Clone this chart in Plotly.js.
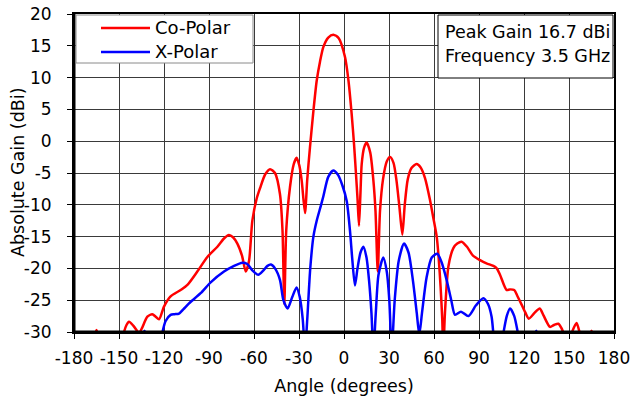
<!DOCTYPE html>
<html>
<head>
<meta charset="utf-8">
<script src="https://cdn.plot.ly/plotly-3.0.1.min.js"></script>
<style>html,body{margin:0;padding:0;background:#fff;}#chart{width:632px;height:405px;}</style>
</head>
<body>
<div id="chart"></div>
<script>
// Co-polar pattern (angle in degrees, gain in dBi)
var coAngle = [
  -180, -172, -167, -165, -163, -158, -150, -147, -145, -143.3,
  -140.5, -138, -136.7, -134.5, -131.1, -127.8, -125.5, -123.3, -120, -115.6,
  -108.9, -104.4, -97.8, -91.1, -84.4, -80, -76.7, -74, -71.1, -68,
  -65.5, -63.3, -61.1, -58.2, -56, -52.5, -49.3, -46, -42.7, -41,
  -39.8, -38.5, -36, -33.5, -31.6, -29.8, -28.2, -26, -24.5, -22.7,
  -20.5, -18.2, -16, -13.8, -10.5, -7.1, -3.5, 0.7, 3, 5.1,
  6.7, 8, 9, 10, 11, 11.8, 13.4, 15.1, 17.5, 19.6,
  21, 22.5, 24, 26, 28.5, 30.7, 33, 35, 37, 38.9,
  40.5, 42.5, 45, 48.4, 51, 54, 57.3, 59.5, 61.8, 63,
  64.4, 65.5, 66.2, 67.3, 69.6, 72.9, 75.5, 78.4, 82, 86,
  90.7, 95, 99.6, 101.8, 104, 108.4, 110.5, 113.5, 115.5, 118.4,
  121, 123.2, 127, 130.5, 133, 137.3, 140, 142.9, 145, 146.5,
  149, 151.5, 155, 157.3, 160, 162.5, 165, 167.5, 172, 180
];
var coGain = [
  -36, -34, -31.5, -29.7, -31.5, -34, -34, -30.3, -28.9, -28.4,
  -29, -29.8, -30.2, -29.3, -27.6, -27.2, -27.6, -28, -26, -24.4,
  -23.4, -22.6, -20.5, -18.2, -16.6, -15.3, -14.75, -15.1, -16.1, -18,
  -20.5, -18.8, -12.5, -9, -7.4, -5.2, -4.4, -5, -8.3, -14,
  -25.6, -14, -7.2, -3.6, -2.6, -3.8, -6.2, -11.3, -6, -1,
  4.5, 9.5, 12.5, 14.8, 16.3, 16.75, 16.2, 13.2, 9.5, 4.3,
  -0.5, -5.2, -9, -13.3, -8, -3.6, -1, -0.2, -1.8, -6.2,
  -11, -20.5, -11, -6, -3.2, -2.5, -3.4, -6.2, -10.5, -14.7,
  -10, -6, -4.2, -3.6, -4.1, -5.8, -9.2, -12, -15, -18,
  -22.9, -28, -33, -27, -19.7, -16.8, -16.1, -15.8, -16.6, -18,
  -18.7, -19.2, -19.6, -20, -21, -23.4, -23.3, -23.4, -24.3, -25.7,
  -27, -27.9, -27, -26.3, -27.4, -29.2, -28.9, -28.7, -29.4, -30.3,
  -32, -30.3, -28.6, -30.3, -33, -31.5, -29.8, -31.5, -34, -36
];

// Cross-polar pattern (angle in degrees, gain in dBi)
var xpAngle = [
  -180, -150, -138, -135, -133, -131, -128, -124, -121.5, -119,
  -115.6, -113, -110, -107, -103.3, -95.6, -88.9, -80, -73.3, -67.8,
  -64.5, -61.1, -57.1, -54, -51, -48.7, -46, -42.7, -40.4, -37.6,
  -34.5, -31.6, -29.5, -27.5, -26, -24.5, -22.5, -20.4, -18.2, -15.5,
  -13.8, -10.5, -7.1, -4, -1, 1.8, 4, 5.5, 7.3, 9,
  11, 12.9, 15, 16.7, 18.3, 19.6, 21.2, 23, 26.2, 28.5,
  30.2, 31.8, 33.8, 36.5, 40, 43, 46, 48.5, 50.2, 52,
  55, 58.5, 62.2, 65, 68.4, 71.5, 74, 78, 82.9, 88,
  92.9, 96, 98.4, 100.2, 103, 106, 108.5, 110.7, 113.5, 116.2,
  119, 125, 128.2, 131, 140, 180
];
var xpGain = [
  -36, -35, -33, -31, -29.8, -31, -34, -33, -30.5, -28.3,
  -27.3, -27.2, -27.1, -26.4, -25.5, -23.9, -22.2, -20.5, -19.6, -19.1,
  -19.3, -20.3, -21, -20.4, -19.6, -19.4, -20, -21.8, -25, -26.3,
  -24.5, -23, -24.5, -28, -33, -28, -20, -15, -12.5, -10.2,
  -8.7, -5.6, -4.6, -5.3, -7, -9.4, -14.1, -18.5, -22.7, -20,
  -17.5, -16.6, -18.3, -21.9, -27, -33, -27, -21, -18.3, -20.5,
  -25, -33, -25, -18.8, -16.1, -17.5, -22, -27, -30.4, -27,
  -21.5, -18.3, -17.7, -19, -21.8, -25, -27.3, -26.8, -27.5, -25.8,
  -24.7, -25.6, -27.6, -31.5, -34, -30.5, -27.5, -26.3, -27.5, -30.5,
  -34, -32, -29.8, -32, -36, -36
];

var seriesNames = ['Co-Polar', 'X-Polar'];
var seriesColors = ['#ff0000', '#0000ff'];
var xTickVals = [-180, -150, -120, -90, -60, -30, 0, 30, 60, 90, 120, 150, 180];
var xTickText = ['-180', '-150', '-120', '-90', '-60', '-30', '0', '30', '60', '90', '120', '150', '180'];
var yTickVals = [-30, -25, -20, -15, -10, -5, 0, 5, 10, 15, 20];
var yTickText = ['-30', '-25', '-20', '-15', '-10', '-5', '0', '5', '10', '15', '20'];
var infoLines = ['Peak Gain 16.7 dBi', 'Frequency 3.5 GHz'];
var xTitle = 'Angle (degrees)';
var yTitle = 'Absolute Gain (dBi)';

var FONT = 'DejaVu Sans, Verdana, sans-serif';

// plot-area pixel geometry helpers (for legend / info box placement)
var PL = 74, PR = 614, PT = 14, PB = 332;
function px(x) { return (x - PL) / (PR - PL); }
function py(y) { return (PB - y) / (PB - PT); }

var traces = [
  {x: coAngle, y: coGain, name: seriesNames[0], type: 'scatter', mode: 'lines', showlegend: false,
   line: {color: seriesColors[0], width: 2.5, shape: 'spline', smoothing: 0.7}},
  {x: xpAngle, y: xpGain, name: seriesNames[1], type: 'scatter', mode: 'lines', showlegend: false,
   line: {color: seriesColors[1], width: 2.5, shape: 'spline', smoothing: 0.7}}
];

var axisCommon = {
  showgrid: true, gridcolor: '#3a3a3a', gridwidth: 1,
  showline: true, linecolor: '#000', linewidth: 2, mirror: true,
  ticks: 'outside', ticklen: 5, tickcolor: '#000', tickwidth: 1,
  zeroline: false, tickmode: 'array',
  tickfont: {family: FONT, size: 17, color: '#000'}
};

var shapes = [
  {type: 'line', xref: 'paper', yref: 'paper', x0: 0, x1: 1, y0: 0, y1: 0, line: {color: '#000', width: 3}},
  {type: 'line', xref: 'paper', yref: 'paper', x0: 0, x1: 0, y0: 0, y1: 1, line: {color: '#000', width: 3}},
  // legend box
  {type: 'rect', xref: 'paper', yref: 'paper', layer: 'above',
   x0: px(76), x1: px(253), y0: py(63), y1: py(15),
   fillcolor: '#fff', line: {color: '#8a8a8a', width: 1}},
  // info box
  {type: 'rect', xref: 'paper', yref: 'paper', layer: 'above',
   x0: px(438), x1: px(613), y0: py(78), y1: py(15),
   fillcolor: '#fff', line: {color: '#000', width: 1}}
];
var annotations = [];
var legendY = [28, 52];
for (var i = 0; i < seriesNames.length; i++) {
  shapes.push({type: 'line', xref: 'paper', yref: 'paper', layer: 'above',
    x0: px(101), x1: px(150), y0: py(legendY[i]), y1: py(legendY[i]),
    line: {color: seriesColors[i], width: 2.5}});
  annotations.push({xref: 'paper', yref: 'paper', x: px(153), y: py(legendY[i]),
    xanchor: 'left', yanchor: 'middle', showarrow: false, text: seriesNames[i],
    font: {family: FONT, size: 18, color: '#000'}});
}
var infoY = [32, 56];
for (var j = 0; j < infoLines.length; j++) {
  annotations.push({xref: 'paper', yref: 'paper', x: px(443), y: py(infoY[j]),
    xanchor: 'left', yanchor: 'middle', showarrow: false, text: infoLines[j],
    font: {family: FONT, size: 17.5, color: '#000'}});
}
// y-axis title placed precisely
annotations.push({xref: 'paper', yref: 'paper', x: px(18), y: 0.5,
  xanchor: 'center', yanchor: 'middle', showarrow: false, textangle: -90,
  text: yTitle, font: {family: FONT, size: 17.5, color: '#000'}});

var layout = {
  width: 632, height: 405,
  margin: {l: 74, r: 18, t: 14, b: 73, pad: 0},
  paper_bgcolor: '#fff', plot_bgcolor: '#fff',
  font: {family: FONT, color: '#000'},
  showlegend: false,
  xaxis: Object.assign({}, axisCommon, {
    range: [-180, 180], tickvals: xTickVals, ticktext: xTickText,
    ticklabelstandoff: 5,
    title: {text: xTitle, font: {family: FONT, size: 17.5, color: '#000'}, standoff: 12}
  }),
  yaxis: Object.assign({}, axisCommon, {
    range: [-30, 20], tickvals: yTickVals, ticktext: yTickText,
    ticklabelstandoff: 12
  }),
  shapes: shapes,
  annotations: annotations
};

Plotly.newPlot('chart', traces, layout, {displayModeBar: false, staticPlot: true});
</script>
</body>
</html>
